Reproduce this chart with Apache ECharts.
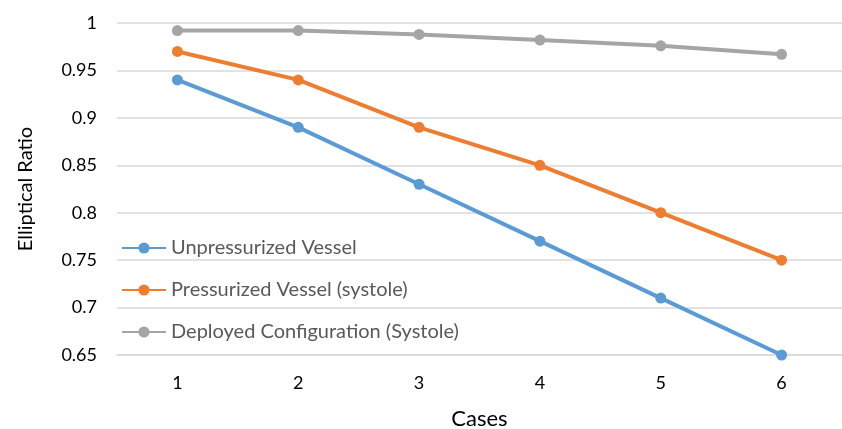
<!DOCTYPE html>
<html lang="en">
<head>
  <meta charset="UTF-8">
  <title>Elliptical Ratio</title>
  <script src="https://cdn.jsdelivr.net/npm/echarts@6/dist/echarts.min.js"></script>
  <style>body { margin: 0; background: #fff; }</style>
</head>
<body>
<div id="chart" style="width: 842px; height: 429px;"></div>
<script>
var cases = ['1', '2', '3', '4', '5', '6'];
var unpressurized = [0.94, 0.89, 0.83, 0.77, 0.71, 0.65];
var pressurized = [0.97, 0.94, 0.89, 0.85, 0.80, 0.75];
var deployed = [0.992, 0.992, 0.988, 0.982, 0.976, 0.967];

var font = 'Lato, "Open Sans", sans-serif';

function line(name, data, color) {
  return {
    name: name,
    type: 'line',
    data: data,
    symbol: 'circle',
    symbolSize: 11,
    itemStyle: { color: color },
    lineStyle: { color: color, width: 4 }
  };
}

var chart = echarts.init(document.getElementById('chart'));
chart.setOption({
  animation: false,
  textStyle: { fontFamily: font },
  grid: { left: 117, right: 0, top: 23, bottom: 74, outerBoundsMode: 'none' },
  legend: {
    orient: 'vertical',
    left: 116,
    top: 233,
    itemWidth: 44,
    itemHeight: 14,
    itemGap: 22,
    textStyle: { fontSize: 20, color: '#595959', fontFamily: font },
    data: ['Unpressurized Vessel', 'Pressurized Vessel (systole)', 'Deployed Configuration (Systole)']
  },
  xAxis: {
    type: 'category',
    data: cases,
    name: 'Cases',
    nameLocation: 'middle',
    nameGap: 53,
    nameTextStyle: { fontSize: 22, color: '#000', fontFamily: font },
    axisLine: { lineStyle: { color: '#d9d9d9', width: 1.5 } },
    axisTick: { show: false },
    axisLabel: { fontSize: 18, color: '#000', margin: 19 }
  },
  yAxis: {
    type: 'value',
    min: 0.65,
    max: 1,
    interval: 0.05,
    name: 'Elliptical Ratio',
    nameLocation: 'middle',
    nameGap: 81,
    nameTextStyle: { fontSize: 20, color: '#000', fontFamily: font },
    axisLine: { show: false },
    axisTick: { show: false },
    axisLabel: {
      fontSize: 18, color: '#000', margin: 20,
      formatter: function (v) { return String(+v.toFixed(2)); }
    },
    splitLine: { lineStyle: { color: '#d9d9d9', width: 1.5 } }
  },
  series: [
    line('Unpressurized Vessel', unpressurized, '#5B9BD5'),
    line('Pressurized Vessel (systole)', pressurized, '#ED7D31'),
    line('Deployed Configuration (Systole)', deployed, '#A5A5A5')
  ]
});
</script>
</body>
</html>
